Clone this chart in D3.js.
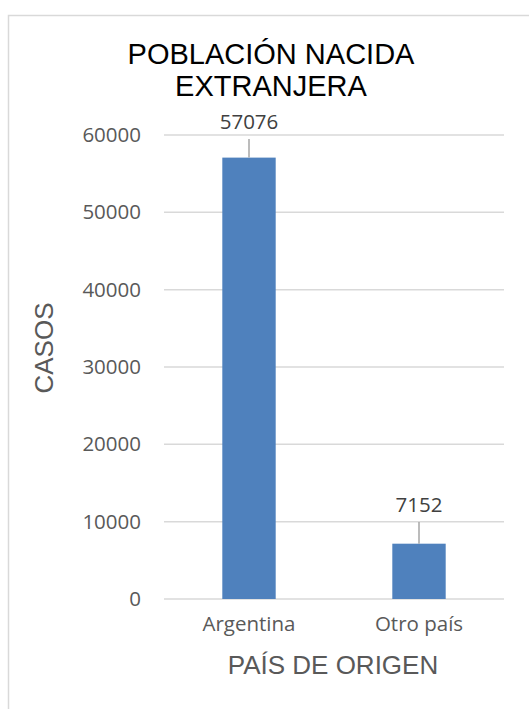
<!DOCTYPE html>
<html>
<head>
<meta charset="utf-8">
<script src="https://cdn.jsdelivr.net/npm/d3@7"></script>
<style>
  body { margin: 0; background: #fff; }
</style>
</head>
<body>
<script>
var categories = ["Argentina", "Otro país"];
var values = [57076, 7152];
var yTicks = [0, 10000, 20000, 30000, 40000, 50000, 60000];
var titleLines = ["POBLACIÓN NACIDA", "EXTRANJERA"];

var width = 529, height = 709;

var svg = d3.select("body").append("svg")
  .attr("width", width)
  .attr("height", height);

svg.append("rect")
  .attr("width", width).attr("height", height)
  .attr("fill", "#fff");

// chart frame (runs off the right and bottom edges)
svg.append("rect")
  .attr("x", 8.5).attr("y", 15.5)
  .attr("width", 600).attr("height", 800)
  .attr("fill", "none")
  .attr("stroke", "#d9d9d9")
  .attr("stroke-width", 1.5);

var x = d3.scaleBand()
  .domain(categories)
  .range([164, 504])
  .paddingInner(0.686)
  .paddingOuter(0.343);

var y = d3.scaleLinear()
  .domain([0, 60000])
  .range([599, 135]);

// gridlines
svg.append("g").selectAll("line")
  .data(yTicks)
  .enter().append("line")
  .attr("x1", 164).attr("x2", 504)
  .attr("y1", function(d) { return y(d); })
  .attr("y2", function(d) { return y(d); })
  .attr("stroke", "#d9d9d9")
  .attr("stroke-width", 1.5);

// y axis tick labels
var yAxis = d3.axisLeft(y).tickValues(yTicks).tickSize(0).tickPadding(0)
  .tickFormat(d3.format("d"));
var gy = svg.append("g").attr("transform", "translate(141,0)").call(yAxis);
gy.select(".domain").remove();
gy.selectAll("text")
  .attr("font-family", "'Open Sans', sans-serif")
  .attr("font-size", 20.5)
  .attr("fill", "#595959");

// bars
svg.append("g").selectAll("rect")
  .data(values)
  .enter().append("rect")
  .attr("x", function(d, i) { return x(categories[i]); })
  .attr("width", x.bandwidth())
  .attr("y", function(d) { return y(d); })
  .attr("height", function(d) { return y(0) - y(d); })
  .attr("fill", "#4f81bd");

// leader lines and value labels
var labelY = [129, 512];
var lab = svg.append("g").selectAll("g")
  .data(values)
  .enter().append("g");

lab.append("line")
  .attr("x1", function(d, i) { return x(categories[i]) + x.bandwidth() / 2; })
  .attr("x2", function(d, i) { return x(categories[i]) + x.bandwidth() / 2; })
  .attr("y1", function(d, i) { return labelY[i] + 10; })
  .attr("y2", function(d) { return y(d); })
  .attr("stroke", "#a6a6a6")
  .attr("stroke-width", 1.5);

lab.append("text")
  .attr("x", function(d, i) { return x(categories[i]) + x.bandwidth() / 2; })
  .attr("y", function(d, i) { return labelY[i]; })
  .attr("text-anchor", "middle")
  .attr("font-family", "'Open Sans', sans-serif")
  .attr("font-size", 20.5)
  .attr("fill", "#404040")
  .text(function(d) { return d; });

// x axis category labels
var xAxis = d3.axisBottom(x).tickSize(0).tickPadding(0);
var gx = svg.append("g").attr("transform", "translate(0,616)").call(xAxis);
gx.select(".domain").remove();
gx.selectAll("text")
  .attr("font-family", "'Open Sans', sans-serif")
  .attr("font-size", 20.5)
  .attr("fill", "#595959");

// title
svg.append("g").selectAll("text")
  .data(titleLines)
  .enter().append("text")
  .attr("x", 271)
  .attr("y", function(d, i) { return 64 + i * 32; })
  .attr("text-anchor", "middle")
  .attr("font-family", "'Liberation Sans', Arial, sans-serif")
  .attr("font-size", 29)
  .attr("fill", "#000")
  .text(function(d) { return d; });

// axis titles
svg.append("text")
  .attr("x", 333).attr("y", 674)
  .attr("text-anchor", "middle")
  .attr("font-family", "'Liberation Sans', Arial, sans-serif")
  .attr("font-size", 26)
  .attr("fill", "#595959")
  .text("PAÍS DE ORIGEN");

svg.append("text")
  .attr("transform", "translate(53,348) rotate(-90)")
  .attr("text-anchor", "middle")
  .attr("font-family", "'Liberation Sans', Arial, sans-serif")
  .attr("font-size", 26)
  .attr("fill", "#595959")
  .text("CASOS");
</script>
</body>
</html>
